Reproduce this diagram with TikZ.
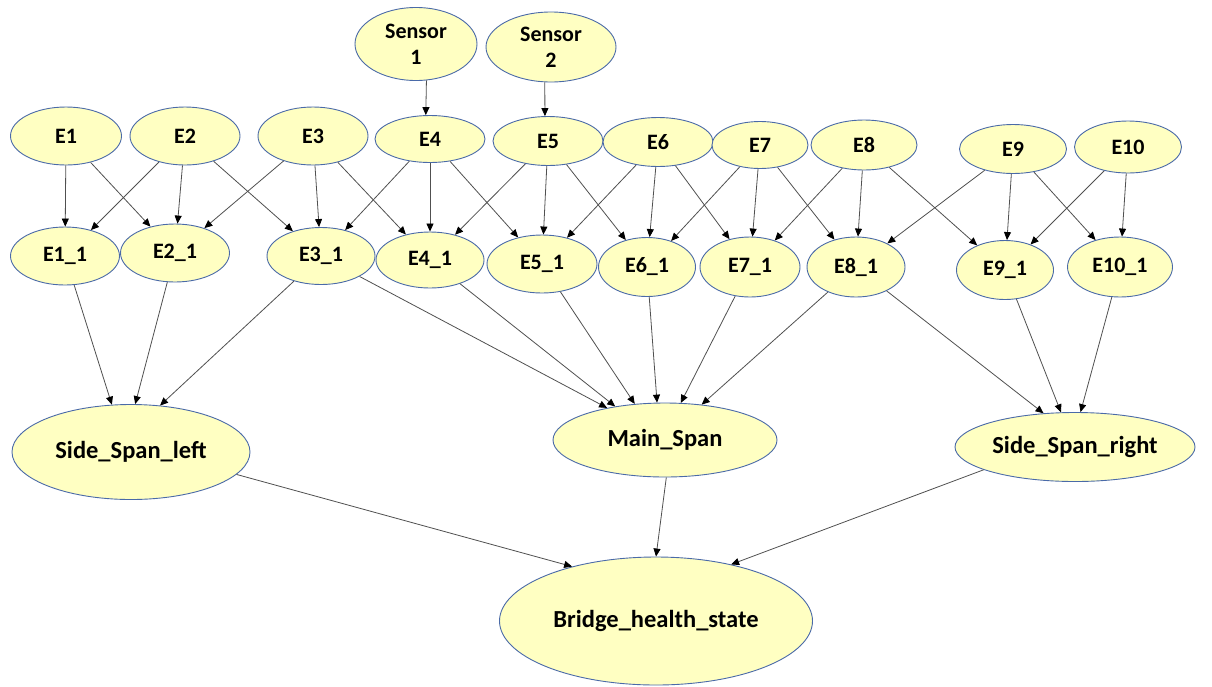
\documentclass[tikz,border=0pt]{standalone}
\usepackage{fontspec}
\setmainfont{Carlito}
\usetikzlibrary{shapes.geometric,arrows.meta}
\definecolor{fillcol}{HTML}{FFFFC2}
\definecolor{bordercol}{HTML}{4A6AA8}
\definecolor{linecol}{HTML}{505050}
\tikzset{
  nd/.style={ellipse, draw=bordercol, line width=0.9pt, fill=fillcol, inner sep=0pt,
    font=\bfseries\fontsize{22}{26}\selectfont, align=center},
  big/.style={nd, font=\bfseries\fontsize{24.5}{28}\selectfont},
  ar/.style={draw=linecol, line width=0.8pt, -{Triangle[length=8pt,width=7pt,color=black]}}
}
\begin{document}
\begin{tikzpicture}[x=1pt,y=-1pt]
\useasboundingbox[fill=white] (0,0) rectangle (1212,686);
% sensors
\node[nd, minimum width=122pt, minimum height=73pt] (S1) at (416,44) {Sensor\\1};
\node[nd, minimum width=130pt, minimum height=70pt] (S2) at (551,47) {Sensor\\2};
% top row
\node[nd, minimum width=111pt, minimum height=58pt] (E1) at (66,136) {E1};
\node[nd, minimum width=110pt, minimum height=58pt] (E2) at (185,136) {E2};
\node[nd, minimum width=110pt, minimum height=58pt] (E3) at (313,136) {E3};
\node[nd, minimum width=110pt, minimum height=47pt] (E4) at (430,139) {E4};
\node[nd, minimum width=110pt, minimum height=49pt] (E5) at (548,141) {E5};
\node[nd, minimum width=110pt, minimum height=49pt] (E6) at (658,142) {E6};
\node[nd, minimum width=96pt, minimum height=47pt] (E7) at (760,145) {E7};
\node[nd, minimum width=106pt, minimum height=50pt] (E8) at (864,145) {E8};
\node[nd, minimum width=107pt, minimum height=49pt] (E9) at (1013,149) {E9};
\node[nd, minimum width=107pt, minimum height=52pt] (E10) at (1128,147) {E10};
% second row
\node[nd, minimum width=109pt, minimum height=58pt] (F1) at (65,256) {E1\_1};
\node[nd, minimum width=109pt, minimum height=58pt] (F2) at (175,253) {E2\_1};
\node[nd, minimum width=108pt, minimum height=57pt] (F3) at (321,256) {E3\_1};
\node[nd, minimum width=108pt, minimum height=56pt] (F4) at (430,260) {E4\_1};
\node[nd, minimum width=110pt, minimum height=58pt] (F5) at (542,264) {E5\_1};
\node[nd, minimum width=97pt, minimum height=59pt] (F6) at (647,267) {E6\_1};
\node[nd, minimum width=100pt, minimum height=60pt] (F7) at (750,267) {E7\_1};
\node[nd, minimum width=98pt, minimum height=60pt] (F8) at (856,267) {E8\_1};
\node[nd, minimum width=97pt, minimum height=59pt] (F9) at (1005,270) {E9\_1};
\node[nd, minimum width=105pt, minimum height=60pt] (F10) at (1120,267) {E10\_1};
% spans
\node[big, minimum width=238pt, minimum height=95pt] (SL) at (131,452) {Side\_Span\_left};
\node[big, minimum width=224pt, minimum height=74pt] (MS) at (665,440) {Main\_Span};
\node[big, minimum width=240pt, minimum height=69pt] (SR) at (1075,447) {Side\_Span\_right};
\node[big, minimum width=313pt, minimum height=128pt] (BH) at (656,621) {Bridge\_health\_state};
% sensor edges
\draw[ar] (S1.-74) -- (E4.100);
\draw[ar] (S2.-100) -- (E5.97);
% top to second row
\draw[ar] (E1) -- (F1);
\draw[ar] (E1) -- (F2);
\draw[ar] (E2) -- (F1);
\draw[ar] (E2) -- (F2);
\draw[ar] (E2) -- (F3);
\draw[ar] (E3) -- (F2);
\draw[ar] (E3) -- (F3);
\draw[ar] (E3) -- (F4);
\draw[ar] (E4) -- (F3);
\draw[ar] (E4) -- (F4);
\draw[ar] (E4) -- (F5);
\draw[ar] (E5) -- (F4);
\draw[ar] (E5) -- (F5);
\draw[ar] (E5) -- (F6);
\draw[ar] (E6) -- (F5);
\draw[ar] (E6) -- (F6);
\draw[ar] (E6) -- (F7);
\draw[ar] (E7) -- (F6);
\draw[ar] (E7) -- (F7);
\draw[ar] (E7) -- (F8);
\draw[ar] (E8) -- (F7);
\draw[ar] (E8) -- (F8);
\draw[ar] (E8) -- (F9);
\draw[ar] (E9) -- (F8);
\draw[ar] (E9) -- (F9);
\draw[ar] (E9) -- (F10);
\draw[ar] (E10) -- (F9);
\draw[ar] (E10) -- (F10);
% to spans
\draw[ar] (F1) -- (SL.112);
\draw[ar] (F2) -- (SL.85);
\draw[ar] (F3) -- (SL.58);
\draw[ar] (F3) -- (MS.151);
\draw[ar] (F4) -- (MS.146);
\draw[ar] (F5) -- (MS.130);
\draw[ar] (F6) -- (MS.102);
\draw[ar] (F7) -- (MS.67);
\draw[ar] (F8) -- (MS.44);
\draw[ar] (F8) -- (SR.133);
\draw[ar] (F9) -- (SR.112);
\draw[ar] (F10) -- (SR.81);
% to bridge
\draw[ar] (SL.-12) -- (BH.147);
\draw[ar] (MS.-88) -- (BH.90);
\draw[ar] (SR.-166) -- (BH.37);
\end{tikzpicture}
\end{document}
